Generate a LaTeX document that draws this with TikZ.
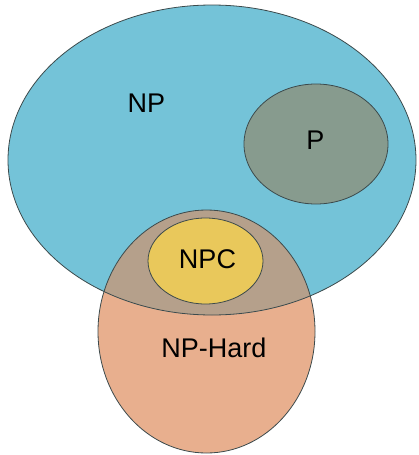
\documentclass[tikz,border=0pt]{standalone}
\usepackage{fontspec}
\setmainfont{Liberation Sans}
\definecolor{npblue}{HTML}{74C3D8}
\definecolor{pgrey}{HTML}{879B8E}
\definecolor{overlapbrown}{HTML}{B5A08B}
\definecolor{hardsalmon}{HTML}{E8AF8E}
\definecolor{npcyellow}{HTML}{E9C85B}
\definecolor{edgegrey}{HTML}{3C4A4C}
\tikzset{
  setedge/.style={draw=edgegrey, line width=0.8pt},
  setlabel/.style={font=\fontsize{27}{30}\selectfont, text=black, inner sep=0pt}
}
\begin{document}
\begin{tikzpicture}[x=1pt, y=-1pt]
\useasboundingbox (0,0) rectangle (418,455);
% region fills
\fill[hardsalmon] (206.5,331.5) ellipse [x radius=108.5, y radius=121.5];
\fill[npblue] (212,160) ellipse [x radius=204, y radius=155];
\begin{scope}
  \clip (212,160) ellipse [x radius=204, y radius=155];
  \fill[overlapbrown] (206.5,331.5) ellipse [x radius=108.5, y radius=121.5];
\end{scope}
% outlines of the two large sets
\draw[setedge] (206.5,331.5) ellipse [x radius=108.5, y radius=121.5];
\draw[setedge] (212,160) ellipse [x radius=204, y radius=155];
% P and NPC
\draw[setedge, fill=pgrey] (316,144) ellipse [x radius=72, y radius=60];
\draw[setedge, fill=npcyellow] (205.5,261) ellipse [x radius=57.5, y radius=43];
% labels
\node[setlabel] (npl) at (146.5,103.5) {NP};
\node[setlabel] (pl) at (315.5,140.5) {P};
\node[setlabel] (npcl) at (207.5,259.5) {NPC};
\node[setlabel] (hardl) at (214,348) {NP-Hard};
\end{tikzpicture}
\end{document}
